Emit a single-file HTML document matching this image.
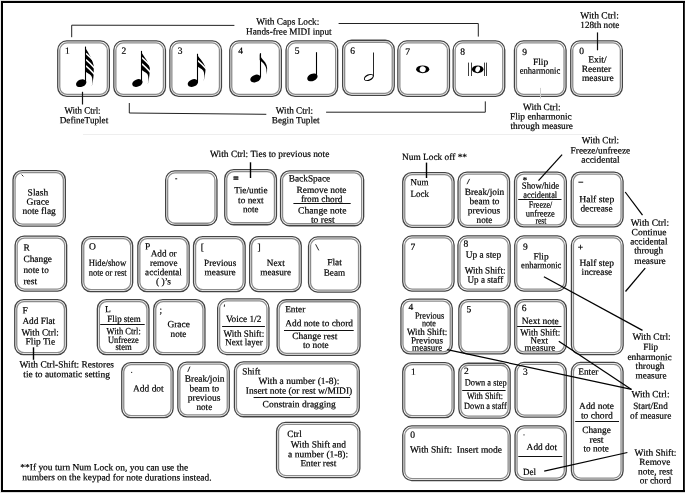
<!DOCTYPE html>
<html lang="en">
<head>
<meta charset="utf-8">
<title>Speedy Entry keyboard map</title>
<style>
html,body{margin:0;padding:0;background:#fff;}
body{width:685px;height:493px;overflow:hidden;}
svg{display:block;filter:grayscale(1);}
svg text{font-family:"Liberation Serif","DejaVu Serif",serif;font-size:9.5px;fill:#000;stroke:#000;stroke-width:0.2px;white-space:pre;text-rendering:geometricPrecision;}
</style>
</head>
<body>
<svg width="685" height="493" viewBox="0 0 685 493">
<rect x="0" y="0" width="685" height="493" fill="#fff"/>
<rect x="0" y="0" width="685" height="1" fill="#ddd"/>
<rect x="0" y="492" width="685" height="1" fill="#ddd"/>
<rect x="0" y="0" width="1" height="493" fill="#e8e8e8"/>
<rect x="2" y="2" width="682" height="489" fill="none" stroke="#000" stroke-width="2"/>
<rect x="684" y="3" width="1" height="487" fill="#2e2e2e"/>
<line x1="83.0" y1="134.5" x2="598.0" y2="134.5" stroke="#eeeeee" stroke-width="1"/>
<rect x="57.75" y="40.95" width="51.60" height="55.40" rx="9" fill="#fff" stroke="#444444" stroke-width="1.3"/>
<rect x="59.75" y="42.95" width="47.60" height="51.40" rx="7.30" fill="none" stroke="#8c8c8c" stroke-width="1.3"/>
<rect x="113.85" y="40.95" width="51.60" height="55.40" rx="9" fill="#fff" stroke="#444444" stroke-width="1.3"/>
<rect x="115.85" y="42.95" width="47.60" height="51.40" rx="7.30" fill="none" stroke="#8c8c8c" stroke-width="1.3"/>
<rect x="169.85" y="40.95" width="51.60" height="55.40" rx="9" fill="#fff" stroke="#444444" stroke-width="1.3"/>
<rect x="171.85" y="42.95" width="47.60" height="51.40" rx="7.30" fill="none" stroke="#8c8c8c" stroke-width="1.3"/>
<rect x="229.75" y="40.95" width="51.60" height="55.40" rx="9" fill="#fff" stroke="#444444" stroke-width="1.3"/>
<rect x="231.75" y="42.95" width="47.60" height="51.40" rx="7.30" fill="none" stroke="#8c8c8c" stroke-width="1.3"/>
<rect x="286.05" y="40.95" width="51.60" height="55.40" rx="9" fill="#fff" stroke="#444444" stroke-width="1.3"/>
<rect x="288.05" y="42.95" width="47.60" height="51.40" rx="7.30" fill="none" stroke="#8c8c8c" stroke-width="1.3"/>
<rect x="342.65" y="40.25" width="51.60" height="55.10" rx="9" fill="#fff" stroke="#444444" stroke-width="1.3"/>
<rect x="344.65" y="42.25" width="47.60" height="51.10" rx="7.30" fill="none" stroke="#8c8c8c" stroke-width="1.3"/>
<rect x="397.85" y="40.95" width="51.60" height="55.40" rx="9" fill="#fff" stroke="#444444" stroke-width="1.3"/>
<rect x="399.85" y="42.95" width="47.60" height="51.40" rx="7.30" fill="none" stroke="#8c8c8c" stroke-width="1.3"/>
<rect x="453.15" y="40.95" width="51.60" height="55.40" rx="9" fill="#fff" stroke="#444444" stroke-width="1.3"/>
<rect x="455.15" y="42.95" width="47.60" height="51.40" rx="7.30" fill="none" stroke="#8c8c8c" stroke-width="1.3"/>
<rect x="514.45" y="40.95" width="51.60" height="55.40" rx="9" fill="#fff" stroke="#444444" stroke-width="1.3"/>
<rect x="516.45" y="42.95" width="47.60" height="51.40" rx="7.30" fill="none" stroke="#8c8c8c" stroke-width="1.3"/>
<rect x="570.75" y="40.95" width="51.60" height="55.40" rx="9" fill="#fff" stroke="#444444" stroke-width="1.3"/>
<rect x="572.75" y="42.95" width="47.60" height="51.40" rx="7.30" fill="none" stroke="#8c8c8c" stroke-width="1.3"/>
<text transform="matrix(1 0.001 0 1 65.1 53.8)" text-anchor="start" font-size="8.7">1</text>
<text transform="matrix(1 0.001 0 1 121.5 53.8)" text-anchor="start" font-size="8.7">2</text>
<text transform="matrix(1 0.001 0 1 177.8 53.8)" text-anchor="start" font-size="8.7">3</text>
<text transform="matrix(1 0.001 0 1 238.3 53.8)" text-anchor="start" font-size="8.7">4</text>
<text transform="matrix(1 0.001 0 1 294.8 53.8)" text-anchor="start" font-size="8.7">5</text>
<text transform="matrix(1 0.001 0 1 350.3 53.8)" text-anchor="start" font-size="8.7">6</text>
<text transform="matrix(1 0.001 0 1 405.3 54.8)" text-anchor="start" font-size="8.7">7</text>
<text transform="matrix(1 0.001 0 1 460.3 54.8)" text-anchor="start" font-size="8.7">8</text>
<text transform="matrix(1 0.001 0 1 522.2 55.0)" text-anchor="start" font-size="8.7">9</text>
<text transform="matrix(1 0.001 0 1 579.2 54.1)" text-anchor="start" font-size="8.7">0</text>
<ellipse cx="81.2" cy="83.2" rx="5.4" ry="3.6" transform="rotate(-22 81.2 83.2)" fill="#000"/>
<path d="M85.1,46.6 C85.8,50.1 91.9,56.3 93.8,66.0 L93.7,73.7 C93.5,78.2 92.5,83.2 91.7,86.7 C92.6,82.2 92.7,78.4 91.4,76.0 C89.8,73.9 86.7,72.9 85.7,71.8 Z" fill="#000"/>
<path d="M85.9,53.4 Q89.6,56.4 94.4,61.8" fill="none" stroke="#fff" stroke-width="1.5"/>
<path d="M85.9,59.6 Q89.6,62.6 94.4,68.0" fill="none" stroke="#fff" stroke-width="1.5"/>
<path d="M85.9,65.8 Q89.6,68.8 94.4,74.2" fill="none" stroke="#fff" stroke-width="1.5"/>
<line x1="85.5" y1="46.6" x2="85.5" y2="82.2" stroke="#000" stroke-width="1.1"/>
<ellipse cx="137.4" cy="83.0" rx="5.4" ry="3.6" transform="rotate(-22 137.4 83.0)" fill="#000"/>
<path d="M141.1,50.9 C141.8,54.4 147.9,59.4 149.8,67.9 L149.7,71.8 C149.5,76.3 148.5,81.3 147.7,84.8 C148.6,80.3 148.7,76.5 147.4,74.1 C145.8,72.0 142.7,71.0 141.7,69.9 Z" fill="#000"/>
<path d="M141.9,57.7 Q145.6,60.7 150.4,66.1" fill="none" stroke="#fff" stroke-width="1.5"/>
<path d="M141.9,63.9 Q145.6,66.9 150.4,72.3" fill="none" stroke="#fff" stroke-width="1.5"/>
<line x1="141.5" y1="50.9" x2="141.5" y2="82.0" stroke="#000" stroke-width="1.1"/>
<ellipse cx="192.9" cy="83.0" rx="5.4" ry="3.6" transform="rotate(-22 192.9 83.0)" fill="#000"/>
<path d="M197.0,53.8 C197.7,57.3 203.8,61.0 205.7,68.3 L205.6,68.5 C205.4,73.0 204.4,78.0 203.6,81.5 C204.5,77.0 204.6,73.2 203.3,70.8 C201.7,68.7 198.6,67.7 197.6,66.6 Z" fill="#000"/>
<path d="M197.8,60.6 Q201.5,63.6 206.3,69.0" fill="none" stroke="#fff" stroke-width="1.5"/>
<line x1="197.5" y1="53.8" x2="197.5" y2="82.0" stroke="#000" stroke-width="1.1"/>
<ellipse cx="255.5" cy="78.5" rx="5.4" ry="3.6" transform="rotate(-22 255.5 78.5)" fill="#000"/>
<path d="M259.7,53.2 c0.4,4.2 3.2,6.0 5.4,9.0 c2.4,3.4 2.6,7.6 1.2,12.6 c0.6,-4.6 0.2,-7.6 -2.0,-10.4 c-1.4,-1.9 -3.4,-3.2 -4.6,-4.4 z" fill="#000"/>
<line x1="260.5" y1="53.2" x2="260.5" y2="77.5" stroke="#000" stroke-width="1.1"/>
<ellipse cx="312.4" cy="77.4" rx="5.4" ry="3.6" transform="rotate(-22 312.4 77.4)" fill="#000"/>
<line x1="316.5" y1="52.2" x2="316.5" y2="76.4" stroke="#000" stroke-width="1.1"/>
<g transform="translate(368.8,77.5) rotate(-22)"><ellipse rx="5.1" ry="3.2" fill="#000"/><ellipse rx="4.4" ry="1.9" transform="rotate(-6)" fill="#fff"/></g>
<line x1="373.5" y1="52.5" x2="373.5" y2="76.5" stroke="#000" stroke-width="0.85"/>
<g transform="translate(422.7,69.3)"><ellipse rx="6.6" ry="3.9" fill="#000"/><ellipse rx="3.1" ry="2.9" transform="rotate(20)" fill="#fff"/></g>
<g transform="translate(477.7,69.3)"><ellipse rx="5.8" ry="3.9" fill="#000"/><ellipse rx="2.3" ry="2.9" transform="rotate(20)" fill="#fff"/></g>
<line x1="468.5" y1="62.6" x2="468.5" y2="76.0" stroke="#000" stroke-width="0.75"/>
<line x1="471.5" y1="62.6" x2="471.5" y2="76.0" stroke="#000" stroke-width="0.75"/>
<line x1="484.5" y1="62.6" x2="484.5" y2="76.0" stroke="#000" stroke-width="0.75"/>
<line x1="486.5" y1="62.6" x2="486.5" y2="76.0" stroke="#000" stroke-width="0.75"/>
<text transform="matrix(1 0.001 0 1 540.6 64.9)" text-anchor="middle">Flip</text>
<text transform="matrix(1 0.001 0 1 519.7 73.7)" text-anchor="start" textLength="40.5" lengthAdjust="spacingAndGlyphs">enharmonic</text>
<text transform="matrix(1 0.001 0 1 597.4 62.5)" text-anchor="middle">Exit/</text>
<text transform="matrix(1 0.001 0 1 596.4 71.9)" text-anchor="middle">Reenter</text>
<text transform="matrix(1 0.001 0 1 597.8 81.1)" text-anchor="middle">measure</text>
<text transform="matrix(1 0.001 0 1 256.3 24.6)" text-anchor="start" textLength="63.0" lengthAdjust="spacingAndGlyphs">With Caps Lock:</text>
<text transform="matrix(1 0.001 0 1 246.1 34.6)" text-anchor="start" textLength="85.5" lengthAdjust="spacingAndGlyphs">Hands-free MIDI input</text>
<polyline points="71.7,37.2 71.7,25.2 234.4,25.4" fill="none" stroke="#222" stroke-width="1.0"/>
<polyline points="338.6,23.5 478.3,23.5 478.3,36.6" fill="none" stroke="#222" stroke-width="1.0"/>
<text transform="matrix(1 0.001 0 1 64.5 113.6)" text-anchor="start" textLength="36.1" lengthAdjust="spacingAndGlyphs">With Ctrl:</text>
<text transform="matrix(1 0.001 0 1 59.7 123.3)" text-anchor="start" textLength="48.5" lengthAdjust="spacingAndGlyphs">DefineTuplet</text>
<line x1="82.5" y1="91.8" x2="82.5" y2="104.5" stroke="#111" stroke-width="1.2"/>
<polyline points="129.3,103.0 129.3,113.0 266.3,114.3" fill="none" stroke="#222" stroke-width="1.0"/>
<polyline points="326.1,112.2 485.3,112.2 485.3,101.4" fill="none" stroke="#222" stroke-width="1.0"/>
<text transform="matrix(1 0.001 0 1 275.8 113.6)" text-anchor="start" textLength="37.2" lengthAdjust="spacingAndGlyphs">With Ctrl:</text>
<text transform="matrix(1 0.001 0 1 271.8 123.3)" text-anchor="start" textLength="47.8" lengthAdjust="spacingAndGlyphs">Begin Tuplet</text>
<text transform="matrix(1 0.001 0 1 580.3 18.4)" text-anchor="start" textLength="38.5" lengthAdjust="spacingAndGlyphs">With Ctrl:</text>
<text transform="matrix(1 0.001 0 1 580.3 28.0)" text-anchor="start" textLength="39.1" lengthAdjust="spacingAndGlyphs">128th note</text>
<line x1="597.5" y1="32.4" x2="597.5" y2="50.3" stroke="#111" stroke-width="1.2"/>
<line x1="540.5" y1="87.9" x2="540.5" y2="98.5" stroke="#cfcfcf" stroke-width="1.0"/>
<text transform="matrix(1 0.001 0 1 523.1 110.1)" text-anchor="start" textLength="37.5" lengthAdjust="spacingAndGlyphs">With Ctrl:</text>
<text transform="matrix(1 0.001 0 1 509.9 119.5)" text-anchor="start" textLength="61.9" lengthAdjust="spacingAndGlyphs">Flip enharmonic</text>
<text transform="matrix(1 0.001 0 1 510.5 128.9)" text-anchor="start" textLength="62.5" lengthAdjust="spacingAndGlyphs">through measure</text>
<rect x="13.05" y="170.55" width="52.30" height="55.50" rx="9" fill="#fff" stroke="#444444" stroke-width="1.3"/>
<rect x="15.05" y="172.55" width="48.30" height="51.50" rx="7.30" fill="none" stroke="#8c8c8c" stroke-width="1.3"/>
<line x1="21.6" y1="174.6" x2="23.4" y2="176.4" stroke="#111" stroke-width="0.9"/>
<text transform="matrix(1 0.001 0 1 37.9 195.4)" text-anchor="middle">Slash</text>
<text transform="matrix(1 0.001 0 1 37.9 204.7)" text-anchor="middle">Grace</text>
<text transform="matrix(1 0.001 0 1 22.5 214.0)" text-anchor="start" textLength="33.3" lengthAdjust="spacingAndGlyphs">note flag</text>
<rect x="165.65" y="170.95" width="51.30" height="54.30" rx="9" fill="#fff" stroke="#444444" stroke-width="1.3"/>
<rect x="167.65" y="172.95" width="47.30" height="50.30" rx="7.30" fill="none" stroke="#8c8c8c" stroke-width="1.3"/>
<line x1="175.2" y1="178.8" x2="177.2" y2="178.8" stroke="#111" stroke-width="1.0"/>
<rect x="224.75" y="169.55" width="51.70" height="55.20" rx="9" fill="#fff" stroke="#444444" stroke-width="1.3"/>
<rect x="226.75" y="171.55" width="47.70" height="51.20" rx="7.30" fill="none" stroke="#8c8c8c" stroke-width="1.3"/>
<text transform="matrix(1 0.001 0 1 233.3 181.3)" font-size="8" font-weight="bold" style="stroke-width:0.5px">=</text>
<text transform="matrix(1 0.001 0 1 234.3 193.3)" text-anchor="start" textLength="33.3" lengthAdjust="spacingAndGlyphs">Tie/untie</text>
<text transform="matrix(1 0.001 0 1 238.1 203.3)" text-anchor="start" textLength="25.6" lengthAdjust="spacingAndGlyphs">to next</text>
<text transform="matrix(1 0.001 0 1 243.0 212.3)" text-anchor="start" textLength="15.4" lengthAdjust="spacingAndGlyphs">note</text>
<line x1="250.5" y1="162.3" x2="250.5" y2="178.0" stroke="#000" stroke-width="1.4"/>
<text transform="matrix(1 0.001 0 1 210.1 157.0)" text-anchor="start" textLength="119.3" lengthAdjust="spacingAndGlyphs">With Ctrl: Ties to previous note</text>
<rect x="280.55" y="170.85" width="83.10" height="54.90" rx="9" fill="#fff" stroke="#444444" stroke-width="1.3"/>
<rect x="282.55" y="172.85" width="79.10" height="50.90" rx="7.30" fill="none" stroke="#8c8c8c" stroke-width="1.3"/>
<text transform="matrix(1 0.001 0 1 288.7 181.5)" text-anchor="start" textLength="41.5" lengthAdjust="spacingAndGlyphs">BackSpace</text>
<text transform="matrix(1 0.001 0 1 296.4 193.0)" text-anchor="start" textLength="50.1" lengthAdjust="spacingAndGlyphs">Remove note</text>
<text transform="matrix(1 0.001 0 1 300.9 202.1)" text-anchor="start" textLength="41.5" lengthAdjust="spacingAndGlyphs">from chord</text>
<line x1="293.4" y1="203.5" x2="350.7" y2="203.5" stroke="#111" stroke-width="1.0"/>
<text transform="matrix(1 0.001 0 1 298.1 213.5)" text-anchor="start" textLength="48.4" lengthAdjust="spacingAndGlyphs">Change note</text>
<text transform="matrix(1 0.001 0 1 310.9 222.8)" text-anchor="start" textLength="23.7" lengthAdjust="spacingAndGlyphs">to rest</text>
<rect x="402.75" y="172.55" width="51.30" height="54.80" rx="9" fill="#fff" stroke="#444444" stroke-width="1.3"/>
<rect x="404.75" y="174.55" width="47.30" height="50.80" rx="7.30" fill="none" stroke="#8c8c8c" stroke-width="1.3"/>
<text transform="matrix(1 0.001 0 1 410.4 185.3)" text-anchor="start" textLength="18.0" lengthAdjust="spacingAndGlyphs">Num</text>
<text transform="matrix(1 0.001 0 1 410.4 197.1)" text-anchor="start" textLength="18.5" lengthAdjust="spacingAndGlyphs">Lock</text>
<text transform="matrix(1 0.001 0 1 402.1 159.9)" text-anchor="start" textLength="64.9" lengthAdjust="spacingAndGlyphs">Num Lock off **</text>
<line x1="426.5" y1="162.6" x2="426.5" y2="178.0" stroke="#000" stroke-width="1.4"/>
<rect x="458.05" y="172.15" width="51.50" height="55.20" rx="9" fill="#fff" stroke="#444444" stroke-width="1.3"/>
<rect x="460.05" y="174.15" width="47.50" height="51.20" rx="7.30" fill="none" stroke="#8c8c8c" stroke-width="1.3"/>
<line x1="467.0" y1="184.2" x2="469.6" y2="178.9" stroke="#111" stroke-width="0.9"/>
<text transform="matrix(1 0.001 0 1 464.7 195.0)" text-anchor="start" textLength="39.6" lengthAdjust="spacingAndGlyphs">Break/join</text>
<text transform="matrix(1 0.001 0 1 469.6 204.3)" text-anchor="start" textLength="29.8" lengthAdjust="spacingAndGlyphs">beam to</text>
<text transform="matrix(1 0.001 0 1 467.8 213.4)" text-anchor="start" textLength="32.4" lengthAdjust="spacingAndGlyphs">previous</text>
<text transform="matrix(1 0.001 0 1 476.6 223.0)" text-anchor="start" textLength="15.8" lengthAdjust="spacingAndGlyphs">note</text>
<rect x="514.55" y="172.05" width="51.80" height="54.80" rx="9" fill="#fff" stroke="#444444" stroke-width="1.3"/>
<rect x="516.55" y="174.05" width="47.80" height="50.80" rx="7.30" fill="none" stroke="#8c8c8c" stroke-width="1.3"/>
<text transform="matrix(1 0.001 0 1 522.4 183.3)" text-anchor="start" font-size="7">*</text>
<text transform="matrix(1 0.001 0 1 521.8 188.8)" text-anchor="start" textLength="37.4" lengthAdjust="spacingAndGlyphs" font-size="8.5">Show/hide</text>
<text transform="matrix(1 0.001 0 1 523.3 197.9)" text-anchor="start" textLength="33.9" lengthAdjust="spacingAndGlyphs" font-size="8.5">accidental</text>
<line x1="518.2" y1="199.5" x2="561.5" y2="199.5" stroke="#111" stroke-width="1.0"/>
<text transform="matrix(1 0.001 0 1 528.7 207.7)" text-anchor="start" textLength="23.6" lengthAdjust="spacingAndGlyphs" font-size="8.5">Freeze/</text>
<text transform="matrix(1 0.001 0 1 525.7 216.6)" text-anchor="start" textLength="29.1" lengthAdjust="spacingAndGlyphs" font-size="8.5">unfreeze</text>
<text transform="matrix(1 0.001 0 1 535.5 223.8)" text-anchor="start" textLength="10.9" lengthAdjust="spacingAndGlyphs" font-size="8.5">rest</text>
<rect x="571.25" y="172.05" width="51.80" height="54.80" rx="9" fill="#fff" stroke="#444444" stroke-width="1.3"/>
<rect x="573.25" y="174.05" width="47.80" height="50.80" rx="7.30" fill="none" stroke="#8c8c8c" stroke-width="1.3"/>
<line x1="578.4" y1="182.2" x2="583.2" y2="182.2" stroke="#111" stroke-width="1.0"/>
<text transform="matrix(1 0.001 0 1 579.2 202.2)" text-anchor="start" textLength="35.0" lengthAdjust="spacingAndGlyphs">Half step</text>
<text transform="matrix(1 0.001 0 1 580.4 211.6)" text-anchor="start" textLength="32.3" lengthAdjust="spacingAndGlyphs">decrease</text>
<text transform="matrix(1 0.001 0 1 581.8 143.2)" text-anchor="start" textLength="37.4" lengthAdjust="spacingAndGlyphs">With Ctrl:</text>
<text transform="matrix(1 0.001 0 1 570.6 153.4)" text-anchor="start" textLength="59.6" lengthAdjust="spacingAndGlyphs">Freeze/unfreeze</text>
<text transform="matrix(1 0.001 0 1 581.2 162.8)" text-anchor="start" textLength="38.5" lengthAdjust="spacingAndGlyphs">accidental</text>
<text transform="matrix(1 0.001 0 1 630.7 225.8)" text-anchor="start" textLength="38.4" lengthAdjust="spacingAndGlyphs">With Ctrl:</text>
<text transform="matrix(1 0.001 0 1 631.5 235.3)" text-anchor="start" textLength="35.1" lengthAdjust="spacingAndGlyphs">Continue</text>
<text transform="matrix(1 0.001 0 1 630.2 244.4)" text-anchor="start" textLength="37.3" lengthAdjust="spacingAndGlyphs">accidental</text>
<text transform="matrix(1 0.001 0 1 634.2 253.6)" text-anchor="start" textLength="29.0" lengthAdjust="spacingAndGlyphs">through</text>
<text transform="matrix(1 0.001 0 1 634.3 263.9)" text-anchor="start" textLength="31.5" lengthAdjust="spacingAndGlyphs">measure</text>
<rect x="15.15" y="236.05" width="51.50" height="55.00" rx="9" fill="#fff" stroke="#444444" stroke-width="1.3"/>
<rect x="17.15" y="238.05" width="47.50" height="51.00" rx="7.30" fill="none" stroke="#8c8c8c" stroke-width="1.3"/>
<text transform="matrix(1 0.001 0 1 23.4 250.7)" text-anchor="start">R</text>
<text transform="matrix(1 0.001 0 1 23.4 262.1)" text-anchor="start" textLength="28.6" lengthAdjust="spacingAndGlyphs">Change</text>
<text transform="matrix(1 0.001 0 1 23.4 273.1)" text-anchor="start" textLength="25.4" lengthAdjust="spacingAndGlyphs">note to</text>
<text transform="matrix(1 0.001 0 1 23.4 284.3)" text-anchor="start" textLength="13.7" lengthAdjust="spacingAndGlyphs">rest</text>
<rect x="81.75" y="236.55" width="50.90" height="55.10" rx="9" fill="#fff" stroke="#444444" stroke-width="1.3"/>
<rect x="83.75" y="238.55" width="46.90" height="51.10" rx="7.30" fill="none" stroke="#8c8c8c" stroke-width="1.3"/>
<text transform="matrix(1 0.001 0 1 89.0 249.6)" text-anchor="start">O</text>
<text transform="matrix(1 0.001 0 1 88.7 265.9)" text-anchor="start" textLength="37.5" lengthAdjust="spacingAndGlyphs">Hide/show</text>
<text transform="matrix(1 0.001 0 1 88.7 275.7)" text-anchor="start" textLength="38.0" lengthAdjust="spacingAndGlyphs">note or rest</text>
<rect x="137.85" y="236.55" width="51.30" height="55.10" rx="9" fill="#fff" stroke="#444444" stroke-width="1.3"/>
<rect x="139.85" y="238.55" width="47.30" height="51.10" rx="7.30" fill="none" stroke="#8c8c8c" stroke-width="1.3"/>
<text transform="matrix(1 0.001 0 1 145.1 249.6)" text-anchor="start">P</text>
<text transform="matrix(1 0.001 0 1 150.7 256.5)" text-anchor="start" textLength="25.9" lengthAdjust="spacingAndGlyphs">Add or</text>
<text transform="matrix(1 0.001 0 1 150.0 265.9)" text-anchor="start" textLength="27.5" lengthAdjust="spacingAndGlyphs">remove</text>
<text transform="matrix(1 0.001 0 1 145.1 275.2)" text-anchor="start" textLength="36.8" lengthAdjust="spacingAndGlyphs">accidental</text>
<text transform="matrix(1 0.001 0 1 155.9 284.5)" text-anchor="start" textLength="15.1" lengthAdjust="spacingAndGlyphs">( )’s</text>
<rect x="193.55" y="236.55" width="51.60" height="55.10" rx="9" fill="#fff" stroke="#444444" stroke-width="1.3"/>
<rect x="195.55" y="238.55" width="47.60" height="51.10" rx="7.30" fill="none" stroke="#8c8c8c" stroke-width="1.3"/>
<text transform="matrix(1 0.001 0 1 200.8 250.3)" text-anchor="start">[</text>
<text transform="matrix(1 0.001 0 1 204.1 265.9)" text-anchor="start" textLength="32.1" lengthAdjust="spacingAndGlyphs">Previous</text>
<text transform="matrix(1 0.001 0 1 204.6 275.2)" text-anchor="start" textLength="31.1" lengthAdjust="spacingAndGlyphs">measure</text>
<rect x="249.65" y="236.55" width="51.60" height="55.10" rx="9" fill="#fff" stroke="#444444" stroke-width="1.3"/>
<rect x="251.65" y="238.55" width="47.60" height="51.10" rx="7.30" fill="none" stroke="#8c8c8c" stroke-width="1.3"/>
<text transform="matrix(1 0.001 0 1 257.6 250.3)" text-anchor="start">]</text>
<text transform="matrix(1 0.001 0 1 266.8 265.9)" text-anchor="start" textLength="17.9" lengthAdjust="spacingAndGlyphs">Next</text>
<text transform="matrix(1 0.001 0 1 260.2 275.2)" text-anchor="start" textLength="30.8" lengthAdjust="spacingAndGlyphs">measure</text>
<rect x="308.55" y="236.95" width="52.00" height="55.10" rx="9" fill="#fff" stroke="#444444" stroke-width="1.3"/>
<rect x="310.55" y="238.95" width="48.00" height="51.10" rx="7.30" fill="none" stroke="#8c8c8c" stroke-width="1.3"/>
<line x1="315.6" y1="244.3" x2="318.8" y2="250.4" stroke="#111" stroke-width="0.9"/>
<text transform="matrix(1 0.001 0 1 327.2 265.2)" text-anchor="start" textLength="14.7" lengthAdjust="spacingAndGlyphs">Flat</text>
<text transform="matrix(1 0.001 0 1 323.7 275.7)" text-anchor="start" textLength="21.4" lengthAdjust="spacingAndGlyphs">Beam</text>
<rect x="402.75" y="235.95" width="51.30" height="55.10" rx="9" fill="#fff" stroke="#444444" stroke-width="1.3"/>
<rect x="404.75" y="237.95" width="47.30" height="51.10" rx="7.30" fill="none" stroke="#8c8c8c" stroke-width="1.3"/>
<text transform="matrix(1 0.001 0 1 410.4 249.9)" text-anchor="start" font-size="8.8">7</text>
<rect x="457.95" y="235.95" width="52.20" height="55.10" rx="9" fill="#fff" stroke="#444444" stroke-width="1.3"/>
<rect x="459.95" y="237.95" width="48.20" height="51.10" rx="7.30" fill="none" stroke="#8c8c8c" stroke-width="1.3"/>
<text transform="matrix(1 0.001 0 1 463.4 246.7)" text-anchor="start" font-size="8.8">8</text>
<text transform="matrix(1 0.001 0 1 465.7 257.8)" text-anchor="start" textLength="35.4" lengthAdjust="spacingAndGlyphs">Up a step</text>
<text transform="matrix(1 0.001 0 1 464.7 273.5)" text-anchor="start" textLength="40.8" lengthAdjust="spacingAndGlyphs">With Shift:</text>
<text transform="matrix(1 0.001 0 1 467.5 282.7)" text-anchor="start" textLength="35.7" lengthAdjust="spacingAndGlyphs">Up a staff</text>
<rect x="514.75" y="235.95" width="51.60" height="55.10" rx="9" fill="#fff" stroke="#444444" stroke-width="1.3"/>
<rect x="516.75" y="237.95" width="47.60" height="51.10" rx="7.30" fill="none" stroke="#8c8c8c" stroke-width="1.3"/>
<text transform="matrix(1 0.001 0 1 522.9 249.8)" text-anchor="start" font-size="8.8">9</text>
<text transform="matrix(1 0.001 0 1 533.4 259.6)" text-anchor="start" textLength="15.2" lengthAdjust="spacingAndGlyphs">Flip</text>
<text transform="matrix(1 0.001 0 1 521.1 268.2)" text-anchor="start" textLength="40.3" lengthAdjust="spacingAndGlyphs">enharmonic</text>
<rect x="571.45" y="235.95" width="51.70" height="118.60" rx="9" fill="#fff" stroke="#444444" stroke-width="1.3"/>
<rect x="573.45" y="237.95" width="47.70" height="114.60" rx="7.30" fill="none" stroke="#8c8c8c" stroke-width="1.3"/>
<text transform="matrix(1 0.001 0 1 577.8 250.2)" font-size="9" font-weight="bold">+</text>
<text transform="matrix(1 0.001 0 1 579.5 265.9)" text-anchor="start" textLength="34.5" lengthAdjust="spacingAndGlyphs">Half step</text>
<text transform="matrix(1 0.001 0 1 581.6 274.9)" text-anchor="start" textLength="30.6" lengthAdjust="spacingAndGlyphs">increase</text>
<text transform="matrix(1 0.001 0 1 632.4 339.8)" text-anchor="start" textLength="38.3" lengthAdjust="spacingAndGlyphs">With Ctrl:</text>
<text transform="matrix(1 0.001 0 1 643.3 350.0)" text-anchor="start" textLength="14.8" lengthAdjust="spacingAndGlyphs">Flip</text>
<text transform="matrix(1 0.001 0 1 627.4 360.1)" text-anchor="start" textLength="44.4" lengthAdjust="spacingAndGlyphs">enharmonic</text>
<text transform="matrix(1 0.001 0 1 635.6 369.0)" text-anchor="start" textLength="28.8" lengthAdjust="spacingAndGlyphs">through</text>
<text transform="matrix(1 0.001 0 1 635.6 378.6)" text-anchor="start" textLength="31.0" lengthAdjust="spacingAndGlyphs">measure</text>
<rect x="14.75" y="299.65" width="51.70" height="55.00" rx="9" fill="#fff" stroke="#444444" stroke-width="1.3"/>
<rect x="16.75" y="301.65" width="47.70" height="51.00" rx="7.30" fill="none" stroke="#8c8c8c" stroke-width="1.3"/>
<text transform="matrix(1 0.001 0 1 22.4 313.5)" text-anchor="start">F</text>
<text transform="matrix(1 0.001 0 1 22.4 323.9)" text-anchor="start" textLength="32.8" lengthAdjust="spacingAndGlyphs">Add Flat</text>
<text transform="matrix(1 0.001 0 1 21.4 335.5)" text-anchor="start" textLength="37.5" lengthAdjust="spacingAndGlyphs">With Ctrl:</text>
<text transform="matrix(1 0.001 0 1 25.5 344.6)" text-anchor="start" textLength="29.7" lengthAdjust="spacingAndGlyphs">Flip Tie</text>
<line x1="33.5" y1="347.3" x2="33.5" y2="359.8" stroke="#000" stroke-width="1.4"/>
<text transform="matrix(1 0.001 0 1 19.6 367.5)" text-anchor="start" textLength="94.4" lengthAdjust="spacingAndGlyphs">With Ctrl-Shift: Restores</text>
<text transform="matrix(1 0.001 0 1 23.3 377.3)" text-anchor="start" textLength="86.7" lengthAdjust="spacingAndGlyphs">tie to automatic setting</text>
<rect x="97.35" y="299.65" width="51.60" height="55.00" rx="9" fill="#fff" stroke="#444444" stroke-width="1.3"/>
<rect x="99.35" y="301.65" width="47.60" height="51.00" rx="7.30" fill="none" stroke="#8c8c8c" stroke-width="1.3"/>
<text transform="matrix(1 0.001 0 1 104.9 312.2)" text-anchor="start">L</text>
<text transform="matrix(1 0.001 0 1 107.2 322.0)" text-anchor="start" textLength="33.6" lengthAdjust="spacingAndGlyphs">Flip stem</text>
<line x1="100.2" y1="324.5" x2="144.7" y2="324.5" stroke="#111" stroke-width="1.0"/>
<text transform="matrix(1 0.001 0 1 106.6 334.3)" text-anchor="start" textLength="34.2" lengthAdjust="spacingAndGlyphs" font-size="8.5">With Ctrl:</text>
<text transform="matrix(1 0.001 0 1 107.9 342.9)" text-anchor="start" textLength="30.8" lengthAdjust="spacingAndGlyphs" font-size="8.5">Unfreeze</text>
<text transform="matrix(1 0.001 0 1 115.4 350.1)" text-anchor="start" textLength="16.3" lengthAdjust="spacingAndGlyphs" font-size="8.5">stem</text>
<rect x="153.75" y="299.65" width="51.20" height="55.00" rx="9" fill="#fff" stroke="#444444" stroke-width="1.3"/>
<rect x="155.75" y="301.65" width="47.20" height="51.00" rx="7.30" fill="none" stroke="#8c8c8c" stroke-width="1.3"/>
<text transform="matrix(1 0.001 0 1 159.4 313.1)" text-anchor="start">;</text>
<text transform="matrix(1 0.001 0 1 167.4 327.2)" text-anchor="start" textLength="22.5" lengthAdjust="spacingAndGlyphs">Grace</text>
<text transform="matrix(1 0.001 0 1 170.6 336.9)" text-anchor="start" textLength="15.8" lengthAdjust="spacingAndGlyphs">note</text>
<rect x="217.65" y="298.95" width="51.30" height="55.60" rx="9" fill="#fff" stroke="#444444" stroke-width="1.3"/>
<rect x="219.65" y="300.95" width="47.30" height="51.60" rx="7.30" fill="none" stroke="#8c8c8c" stroke-width="1.3"/>
<line x1="224.5" y1="304.5" x2="224.3" y2="306.8" stroke="#111" stroke-width="0.9"/>
<text transform="matrix(1 0.001 0 1 225.9 321.9)" text-anchor="start" textLength="35.5" lengthAdjust="spacingAndGlyphs">Voice 1/2</text>
<line x1="222.1" y1="326.5" x2="264.9" y2="326.5" stroke="#111" stroke-width="1.0"/>
<text transform="matrix(1 0.001 0 1 223.5 336.8)" text-anchor="start" textLength="40.7" lengthAdjust="spacingAndGlyphs">With Shift:</text>
<text transform="matrix(1 0.001 0 1 225.2 345.2)" text-anchor="start" textLength="37.4" lengthAdjust="spacingAndGlyphs">Next layer</text>
<rect x="277.15" y="299.75" width="82.90" height="55.60" rx="9" fill="#fff" stroke="#444444" stroke-width="1.3"/>
<rect x="279.15" y="301.75" width="78.90" height="51.60" rx="7.30" fill="none" stroke="#8c8c8c" stroke-width="1.3"/>
<text transform="matrix(1 0.001 0 1 285.2 312.3)" text-anchor="start" textLength="20.1" lengthAdjust="spacingAndGlyphs">Enter</text>
<text transform="matrix(1 0.001 0 1 285.2 326.2)" text-anchor="start" textLength="67.8" lengthAdjust="spacingAndGlyphs">Add note to chord</text>
<line x1="284.0" y1="330.5" x2="353.7" y2="330.5" stroke="#111" stroke-width="1.0"/>
<text transform="matrix(1 0.001 0 1 292.2 339.1)" text-anchor="start" textLength="45.1" lengthAdjust="spacingAndGlyphs">Change rest</text>
<text transform="matrix(1 0.001 0 1 303.0 348.1)" text-anchor="start" textLength="25.7" lengthAdjust="spacingAndGlyphs">to note</text>
<rect x="400.95" y="299.05" width="51.30" height="54.80" rx="9" fill="#fff" stroke="#444444" stroke-width="1.3"/>
<rect x="402.95" y="301.05" width="47.30" height="50.80" rx="7.30" fill="none" stroke="#8c8c8c" stroke-width="1.3"/>
<text transform="matrix(1 0.001 0 1 408.6 310.1)" text-anchor="start" font-size="9">4</text>
<text transform="matrix(1 0.001 0 1 414.9 318.7)" text-anchor="start" textLength="29.3" lengthAdjust="spacingAndGlyphs" font-size="8.5">Previous</text>
<text transform="matrix(1 0.001 0 1 421.9 326.2)" text-anchor="start" textLength="14.0" lengthAdjust="spacingAndGlyphs" font-size="8.5">note</text>
<text transform="matrix(1 0.001 0 1 406.9 334.9)" text-anchor="start" textLength="40.3" lengthAdjust="spacingAndGlyphs">With Shift:</text>
<text transform="matrix(1 0.001 0 1 410.9 343.4)" text-anchor="start" textLength="32.1" lengthAdjust="spacingAndGlyphs" font-size="8.5">Previous</text>
<text transform="matrix(1 0.001 0 1 412.1 350.8)" text-anchor="start" textLength="30.3" lengthAdjust="spacingAndGlyphs" font-size="8.5">measure</text>
<rect x="458.85" y="299.55" width="51.30" height="54.30" rx="9" fill="#fff" stroke="#444444" stroke-width="1.3"/>
<rect x="460.85" y="301.55" width="47.30" height="50.30" rx="7.30" fill="none" stroke="#8c8c8c" stroke-width="1.3"/>
<text transform="matrix(1 0.001 0 1 466.6 312.2)" text-anchor="start" font-size="8.8">5</text>
<rect x="514.75" y="299.55" width="51.60" height="54.30" rx="9" fill="#fff" stroke="#444444" stroke-width="1.3"/>
<rect x="516.75" y="301.55" width="47.60" height="50.30" rx="7.30" fill="none" stroke="#8c8c8c" stroke-width="1.3"/>
<text transform="matrix(1 0.001 0 1 521.7 310.9)" text-anchor="start" font-size="8.8">6</text>
<text transform="matrix(1 0.001 0 1 521.7 324.1)" text-anchor="start" textLength="37.1" lengthAdjust="spacingAndGlyphs">Next note</text>
<line x1="517.1" y1="326.5" x2="561.4" y2="326.5" stroke="#111" stroke-width="1.0"/>
<text transform="matrix(1 0.001 0 1 520.3 335.5)" text-anchor="start" textLength="39.9" lengthAdjust="spacingAndGlyphs">With Shift:</text>
<text transform="matrix(1 0.001 0 1 530.4 343.4)" text-anchor="start" textLength="17.5" lengthAdjust="spacingAndGlyphs" font-size="8.5">Next</text>
<text transform="matrix(1 0.001 0 1 524.6 350.8)" text-anchor="start" textLength="30.7" lengthAdjust="spacingAndGlyphs" font-size="8.5">measure</text>
<rect x="121.75" y="362.55" width="51.30" height="55.10" rx="9" fill="#fff" stroke="#444444" stroke-width="1.3"/>
<rect x="123.75" y="364.55" width="47.30" height="51.10" rx="7.30" fill="none" stroke="#8c8c8c" stroke-width="1.3"/>
<line x1="131.0" y1="372.4" x2="132.2" y2="372.4" stroke="#111" stroke-width="0.9"/>
<text transform="matrix(1 0.001 0 1 133.0 391.5)" text-anchor="start" textLength="30.7" lengthAdjust="spacingAndGlyphs">Add dot</text>
<rect x="177.85" y="362.05" width="51.40" height="54.80" rx="9" fill="#fff" stroke="#444444" stroke-width="1.3"/>
<rect x="179.85" y="364.05" width="47.40" height="50.80" rx="7.30" fill="none" stroke="#8c8c8c" stroke-width="1.3"/>
<line x1="187.7" y1="371.9" x2="190.0" y2="366.6" stroke="#111" stroke-width="0.9"/>
<text transform="matrix(1 0.001 0 1 184.7 381.8)" text-anchor="start" textLength="39.8" lengthAdjust="spacingAndGlyphs">Break/join</text>
<text transform="matrix(1 0.001 0 1 189.5 391.5)" text-anchor="start" textLength="29.7" lengthAdjust="spacingAndGlyphs">beam to</text>
<text transform="matrix(1 0.001 0 1 187.7 400.7)" text-anchor="start" textLength="32.8" lengthAdjust="spacingAndGlyphs">previous</text>
<text transform="matrix(1 0.001 0 1 196.5 410.0)" text-anchor="start" textLength="15.7" lengthAdjust="spacingAndGlyphs">note</text>
<rect x="234.45" y="361.85" width="124.80" height="54.90" rx="9" fill="#fff" stroke="#444444" stroke-width="1.3"/>
<rect x="236.45" y="363.85" width="120.80" height="50.90" rx="7.30" fill="none" stroke="#8c8c8c" stroke-width="1.3"/>
<text transform="matrix(1 0.001 0 1 242.3 374.6)" text-anchor="start" textLength="18.0" lengthAdjust="spacingAndGlyphs">Shift</text>
<text transform="matrix(1 0.001 0 1 258.6 383.9)" text-anchor="start" textLength="80.7" lengthAdjust="spacingAndGlyphs">With a number (1-8):</text>
<text transform="matrix(1 0.001 0 1 245.8 393.7)" text-anchor="start" textLength="106.4" lengthAdjust="spacingAndGlyphs">Insert note (or rest w/MIDI)</text>
<line x1="253.6" y1="397.5" x2="350.2" y2="397.5" stroke="#111" stroke-width="1.0"/>
<text transform="matrix(1 0.001 0 1 262.6 407.3)" text-anchor="start" textLength="73.2" lengthAdjust="spacingAndGlyphs">Constrain dragging</text>
<rect x="402.75" y="362.55" width="51.30" height="55.10" rx="9" fill="#fff" stroke="#444444" stroke-width="1.3"/>
<rect x="404.75" y="364.55" width="47.30" height="51.10" rx="7.30" fill="none" stroke="#8c8c8c" stroke-width="1.3"/>
<text transform="matrix(1 0.001 0 1 410.9 374.7)" text-anchor="start" font-size="8.8">1</text>
<rect x="458.85" y="363.25" width="51.30" height="54.80" rx="9" fill="#fff" stroke="#444444" stroke-width="1.3"/>
<rect x="460.85" y="365.25" width="47.30" height="50.80" rx="7.30" fill="none" stroke="#8c8c8c" stroke-width="1.3"/>
<text transform="matrix(1 0.001 0 1 464.0 373.9)" text-anchor="start" font-size="8.8">2</text>
<text transform="matrix(1 0.001 0 1 464.7 385.6)" text-anchor="start" textLength="42.0" lengthAdjust="spacingAndGlyphs">Down a step</text>
<line x1="462.2" y1="390.5" x2="505.6" y2="390.5" stroke="#111" stroke-width="1.0"/>
<text transform="matrix(1 0.001 0 1 467.0 398.9)" text-anchor="start" textLength="35.9" lengthAdjust="spacingAndGlyphs" font-size="8.5">With Shift:</text>
<text transform="matrix(1 0.001 0 1 464.0 409.0)" text-anchor="start" textLength="42.7" lengthAdjust="spacingAndGlyphs">Down a staff</text>
<rect x="515.05" y="362.45" width="51.20" height="54.60" rx="9" fill="#fff" stroke="#444444" stroke-width="1.3"/>
<rect x="517.05" y="364.45" width="47.20" height="50.60" rx="7.30" fill="none" stroke="#8c8c8c" stroke-width="1.3"/>
<text transform="matrix(1 0.001 0 1 523.0 374.8)" text-anchor="start" font-size="8.8">3</text>
<rect x="571.45" y="362.45" width="51.60" height="117.60" rx="9" fill="#fff" stroke="#444444" stroke-width="1.3"/>
<rect x="573.45" y="364.45" width="47.60" height="113.60" rx="7.30" fill="none" stroke="#8c8c8c" stroke-width="1.3"/>
<text transform="matrix(1 0.001 0 1 578.2 374.8)" text-anchor="start" textLength="20.2" lengthAdjust="spacingAndGlyphs">Enter</text>
<text transform="matrix(1 0.001 0 1 579.1 409.0)" text-anchor="start" textLength="34.8" lengthAdjust="spacingAndGlyphs">Add note</text>
<text transform="matrix(1 0.001 0 1 580.9 418.5)" text-anchor="start" textLength="31.8" lengthAdjust="spacingAndGlyphs">to chord</text>
<line x1="575.2" y1="421.5" x2="619.0" y2="421.5" stroke="#111" stroke-width="1.0"/>
<text transform="matrix(1 0.001 0 1 582.2 433.0)" text-anchor="start" textLength="28.6" lengthAdjust="spacingAndGlyphs">Change</text>
<text transform="matrix(1 0.001 0 1 589.4 442.7)" text-anchor="start" textLength="14.2" lengthAdjust="spacingAndGlyphs">rest</text>
<text transform="matrix(1 0.001 0 1 583.5 451.5)" text-anchor="start" textLength="25.3" lengthAdjust="spacingAndGlyphs">to note</text>
<text transform="matrix(1 0.001 0 1 631.5 397.3)" text-anchor="start" textLength="38.0" lengthAdjust="spacingAndGlyphs">With Ctrl:</text>
<text transform="matrix(1 0.001 0 1 633.3 409.0)" text-anchor="start" textLength="34.4" lengthAdjust="spacingAndGlyphs">Start/End</text>
<text transform="matrix(1 0.001 0 1 630.0 418.7)" text-anchor="start" textLength="41.3" lengthAdjust="spacingAndGlyphs">of measure</text>
<text transform="matrix(1 0.001 0 1 634.6 455.8)" text-anchor="start" textLength="41.9" lengthAdjust="spacingAndGlyphs">With Shift:</text>
<text transform="matrix(1 0.001 0 1 639.3 465.0)" text-anchor="start" textLength="31.0" lengthAdjust="spacingAndGlyphs">Remove</text>
<text transform="matrix(1 0.001 0 1 638.0 474.5)" text-anchor="start" textLength="34.6" lengthAdjust="spacingAndGlyphs">note, rest</text>
<text transform="matrix(1 0.001 0 1 639.8 483.4)" text-anchor="start" textLength="31.5" lengthAdjust="spacingAndGlyphs">or chord</text>
<rect x="276.55" y="422.45" width="83.30" height="55.10" rx="9" fill="#fff" stroke="#444444" stroke-width="1.3"/>
<rect x="278.55" y="424.45" width="79.30" height="51.10" rx="7.30" fill="none" stroke="#8c8c8c" stroke-width="1.3"/>
<text transform="matrix(1 0.001 0 1 287.3 437.0)" text-anchor="start" textLength="14.5" lengthAdjust="spacingAndGlyphs">Ctrl</text>
<text transform="matrix(1 0.001 0 1 290.8 447.4)" text-anchor="start" textLength="55.2" lengthAdjust="spacingAndGlyphs">With Shift and</text>
<text transform="matrix(1 0.001 0 1 288.1 457.3)" text-anchor="start" textLength="60.1" lengthAdjust="spacingAndGlyphs">a number (1-8):</text>
<text transform="matrix(1 0.001 0 1 300.4 466.3)" text-anchor="start" textLength="35.9" lengthAdjust="spacingAndGlyphs">Enter rest</text>
<rect x="402.75" y="425.95" width="107.40" height="54.60" rx="9" fill="#fff" stroke="#444444" stroke-width="1.3"/>
<rect x="404.75" y="427.95" width="103.40" height="50.60" rx="7.30" fill="none" stroke="#8c8c8c" stroke-width="1.3"/>
<text transform="matrix(1 0.001 0 1 410.2 437.8)" text-anchor="start" font-size="8.3">0</text>
<text transform="matrix(1 0.001 0 1 410.0 452.6)" text-anchor="start" textLength="92.0" lengthAdjust="spacingAndGlyphs">With Shift:  Insert mode</text>
<rect x="515.05" y="425.85" width="51.20" height="54.20" rx="9" fill="#fff" stroke="#444444" stroke-width="1.3"/>
<rect x="517.05" y="427.85" width="47.20" height="50.20" rx="7.30" fill="none" stroke="#8c8c8c" stroke-width="1.3"/>
<line x1="523.4" y1="434.9" x2="524.6" y2="434.9" stroke="#111" stroke-width="0.9"/>
<text transform="matrix(1 0.001 0 1 526.6 450.1)" text-anchor="start" textLength="30.5" lengthAdjust="spacingAndGlyphs">Add dot</text>
<line x1="518.3" y1="456.5" x2="562.3" y2="456.5" stroke="#111" stroke-width="1.0"/>
<text transform="matrix(1 0.001 0 1 523.0 475.1)" text-anchor="start" textLength="12.9" lengthAdjust="spacingAndGlyphs">Del</text>
<text transform="matrix(1 0.001 0 1 20.3 470.3)" text-anchor="start" textLength="167.9" lengthAdjust="spacingAndGlyphs">**If you turn Num Lock on, you can use the</text>
<text transform="matrix(1 0.001 0 1 22.2 480.3)" text-anchor="start" textLength="189.5" lengthAdjust="spacingAndGlyphs">numbers on the keypad for note durations instead.</text>
<line x1="562.1" y1="154.7" x2="538.5" y2="180.6" stroke="#000" stroke-width="1.25"/>
<line x1="625.2" y1="192.0" x2="642.5" y2="215.1" stroke="#000" stroke-width="1.25"/>
<line x1="645.2" y1="268.2" x2="625.5" y2="291.5" stroke="#000" stroke-width="1.25"/>
<line x1="543.9" y1="276.7" x2="642.5" y2="330.4" stroke="#000" stroke-width="1.25"/>
<line x1="447.2" y1="349.7" x2="631.5" y2="389.4" stroke="#000" stroke-width="1.25"/>
<line x1="558.8" y1="341.3" x2="631.5" y2="389.4" stroke="#000" stroke-width="1.25"/>
<line x1="627.4" y1="452.5" x2="544.2" y2="471.1" stroke="#000" stroke-width="1.25"/>
</svg>
</body>
</html>
